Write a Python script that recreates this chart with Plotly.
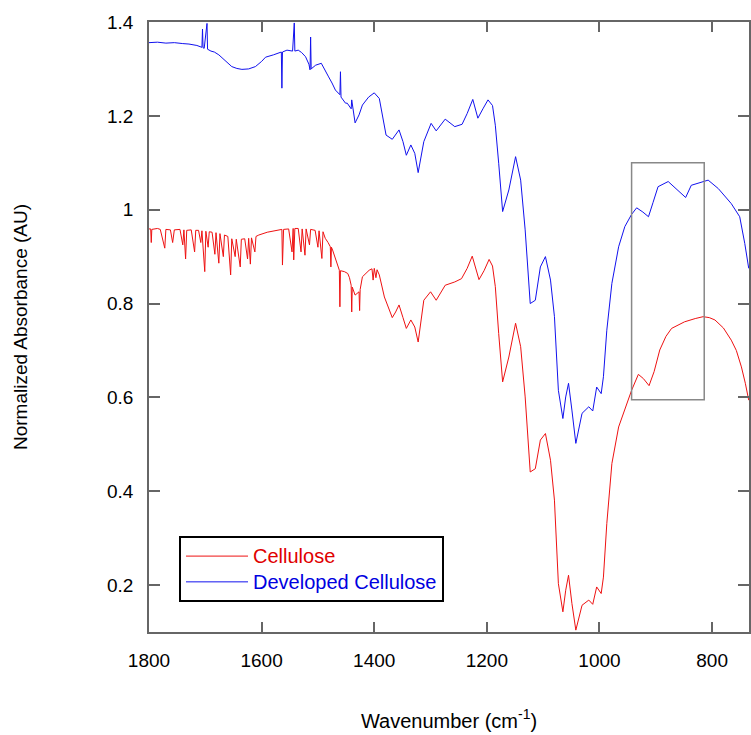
import plotly.graph_objects as go

# ---- Developed Cellulose (blue) ----
dev_wn = [1800, 1785, 1770, 1755, 1740, 1729, 1715, 1706, 1705, 1704, 1702, 1697, 1696, 1690, 1684,
          1676, 1665, 1653, 1644, 1635, 1623, 1611, 1600, 1593, 1579, 1570, 1565, 1564, 1563, 1555,
          1545, 1542, 1541, 1535, 1529, 1522, 1516, 1514, 1513, 1512, 1504, 1494, 1488, 1481, 1475,
          1469, 1461, 1460, 1459, 1451, 1448, 1441, 1440, 1434, 1427, 1421, 1410, 1400, 1391, 1385,
          1379, 1368, 1356, 1349, 1343, 1335, 1328, 1322, 1312, 1299, 1290, 1274, 1257, 1244, 1235,
          1225, 1216, 1207, 1198, 1190, 1185, 1179, 1172, 1161, 1149, 1140, 1132, 1123, 1114, 1105,
          1096, 1087, 1080, 1073, 1065, 1060, 1055, 1049, 1042, 1031, 1019, 1012, 1005, 997, 993,
          987, 978, 966, 955, 943, 934, 923, 913, 905, 896, 878, 860, 847, 837, 822, 807, 789, 766,
          751, 742, 735]
dev_abs = [1.356, 1.357, 1.355, 1.356, 1.354, 1.353, 1.350, 1.346, 1.385, 1.345, 1.344, 1.397, 1.342, 1.338, 1.336,
           1.330, 1.318, 1.305, 1.301, 1.299, 1.300, 1.305, 1.316, 1.325, 1.330, 1.333, 1.336, 1.259, 1.336, 1.340,
           1.338, 1.398, 1.338, 1.340, 1.335, 1.326, 1.310, 1.298, 1.368, 1.300, 1.308, 1.312, 1.300, 1.283, 1.270,
           1.255, 1.245, 1.294, 1.240, 1.227, 1.227, 1.215, 1.234, 1.185, 1.202, 1.223, 1.240, 1.249, 1.237, 1.200,
           1.159, 1.150, 1.170, 1.145, 1.116, 1.138, 1.120, 1.079, 1.145, 1.184, 1.168, 1.193, 1.177, 1.182, 1.205,
           1.235, 1.195, 1.215, 1.234, 1.222, 1.180, 1.099, 0.996, 1.042, 1.113, 1.063, 0.957, 0.800, 0.807, 0.878,
           0.900, 0.850, 0.772, 0.615, 0.555, 0.601, 0.630, 0.573, 0.502, 0.566, 0.580, 0.571, 0.622, 0.608, 0.644,
           0.743, 0.843, 0.921, 0.964, 0.990, 1.004, 0.995, 0.985, 1.015, 1.049, 1.060, 1.040, 1.026, 1.052, 1.058,
           1.063, 1.045, 1.013, 0.985, 0.928, 0.875]

# ---- Cellulose (red) ----
cel_wn = [1800, 1797, 1796, 1795, 1785, 1780, 1772, 1770, 1762, 1758, 1755, 1745, 1740, 1738, 1735,
          1733, 1725, 1719, 1717, 1712, 1708, 1706, 1701, 1699, 1695, 1693, 1688, 1683, 1681, 1676,
          1674, 1668, 1666, 1660, 1655, 1653, 1647, 1645, 1638, 1636, 1630, 1625, 1623, 1620, 1618,
          1612, 1610, 1605, 1590, 1576, 1564, 1563, 1561, 1552, 1546, 1544, 1543, 1541, 1535, 1530,
          1528, 1523, 1521, 1515, 1513, 1505, 1500, 1498, 1493, 1491, 1487, 1482, 1478, 1477, 1476,
          1474, 1468, 1465, 1462, 1461, 1460, 1453, 1447, 1444, 1441, 1440, 1439, 1434, 1430, 1427,
          1426, 1425, 1421, 1415, 1409, 1404, 1402, 1400, 1397, 1395, 1391, 1382, 1373, 1368, 1362,
          1356, 1349, 1343, 1335, 1328, 1322, 1312, 1300, 1290, 1274, 1257, 1245, 1235, 1226, 1214,
          1205, 1196, 1190, 1185, 1179, 1172, 1161, 1149, 1140, 1132, 1123, 1114, 1105, 1096, 1087,
          1080, 1073, 1065, 1060, 1055, 1049, 1042, 1031, 1019, 1012, 1005, 997, 993, 987, 978,
          966, 955, 943, 931, 922, 912, 903, 893, 882, 872, 860, 849, 830, 816, 805, 795, 780, 766,
          757, 748, 741, 735]
cel_abs = [0.959, 0.959, 0.930, 0.958, 0.960, 0.958, 0.918, 0.958, 0.957, 0.930, 0.957, 0.958, 0.925, 0.957, 0.895,
           0.956, 0.957, 0.910, 0.956, 0.956, 0.930, 0.955, 0.868, 0.954, 0.920, 0.953, 0.952, 0.905, 0.951, 0.886,
           0.949, 0.900, 0.946, 0.943, 0.861, 0.938, 0.900, 0.937, 0.878, 0.937, 0.938, 0.895, 0.939, 0.884, 0.940,
           0.910, 0.943, 0.946, 0.952, 0.956, 0.958, 0.882, 0.958, 0.959, 0.910, 0.960, 0.893, 0.960, 0.960, 0.910,
           0.959, 0.903, 0.959, 0.925, 0.958, 0.956, 0.920, 0.955, 0.896, 0.953, 0.939, 0.930, 0.921, 0.878, 0.920,
           0.914, 0.893, 0.880, 0.871, 0.793, 0.870, 0.868, 0.864, 0.855, 0.839, 0.782, 0.835, 0.818, 0.822, 0.825,
           0.785, 0.830, 0.857, 0.865, 0.871, 0.874, 0.850, 0.875, 0.855, 0.872, 0.861, 0.814, 0.786, 0.770, 0.782,
           0.797, 0.770, 0.747, 0.765, 0.750, 0.718, 0.807, 0.825, 0.807, 0.839, 0.846, 0.853, 0.875, 0.901, 0.851,
           0.870, 0.894, 0.880, 0.836, 0.736, 0.633, 0.686, 0.758, 0.708, 0.601, 0.441, 0.448, 0.509, 0.523, 0.466,
           0.381, 0.203, 0.143, 0.189, 0.221, 0.161, 0.104, 0.157, 0.168, 0.159, 0.196, 0.182, 0.217, 0.331, 0.459,
           0.537, 0.573, 0.615, 0.649, 0.640, 0.625, 0.655, 0.701, 0.730, 0.747, 0.755, 0.761, 0.768, 0.772, 0.770,
           0.765, 0.748, 0.722, 0.700, 0.665, 0.630, 0.594]

# highlighted region box (wavenumber / absorbance bounds)
box_wn = [943, 814]
box_abs = [0.595, 1.1]

x_ticks = [1800, 1600, 1400, 1200, 1000, 800]
y_ticks = [0.2, 0.4, 0.6, 0.8, 1.0, 1.2, 1.4]
y_tick_text = ["0.2", "0.4", "0.6", "0.8", "1", "1.2", "1.4"]

FONT = "Liberation Sans, Arial, sans-serif"
AXC = "#666666"

fig = go.Figure()
fig.add_trace(go.Scatter(x=cel_wn, y=cel_abs, mode="lines",
                         name="<span style='color:#e00000;font-size:20px'>Cellulose</span>",
                         line=dict(color="#ee1111", width=1)))
fig.add_trace(go.Scatter(x=dev_wn, y=dev_abs, mode="lines",
                         name="<span style='color:#0000e0;font-size:20px'>Developed Cellulose</span>",
                         line=dict(color="#1111ee", width=1)))

fig.add_shape(type="rect", xref="x", yref="y",
              x0=box_wn[0], x1=box_wn[1], y0=box_abs[0], y1=box_abs[1],
              line=dict(color="#888888", width=1.5), fillcolor="rgba(0,0,0,0)")

fig.update_layout(
    width=751, height=735,
    margin=dict(l=149, r=0, t=22, b=103),
    paper_bgcolor="white", plot_bgcolor="white",
    font=dict(family=FONT, size=19, color="black"),
    showlegend=True,
    legend=dict(x=0.05, y=0.157, xanchor="left", yanchor="top",
                bgcolor="white", bordercolor="black", borderwidth=2,
                font=dict(family=FONT, size=17.5), entrywidth=256,
                tracegroupgap=0, itemwidth=62),
    xaxis=dict(range=[1800, 734.5], tickvals=x_ticks, ticks="inside", ticklen=10,
               tickwidth=1.5, tickcolor=AXC, showline=True, linecolor=AXC, linewidth=1.5,
               mirror="allticks", showgrid=False, zeroline=False, ticklabelstandoff=10,
               tickfont=dict(family=FONT, size=19),
               title=dict(text="Wavenumber (cm<sup>-1</sup>)", standoff=44,
                          font=dict(family=FONT, size=20))),
    yaxis=dict(range=[0.1, 1.4], tickvals=y_ticks, ticktext=y_tick_text, ticks="inside",
               ticklen=11, tickwidth=1.5, tickcolor=AXC, showline=True, linecolor=AXC,
               linewidth=1.5, mirror="allticks", showgrid=False, zeroline=False,
               ticklabelstandoff=10,
               tickfont=dict(family=FONT, size=19),
               title=dict(text="Normalized Absorbance (AU)", standoff=74,
                          font=dict(family=FONT, size=19))),
)

fig.write_html("out.html")
